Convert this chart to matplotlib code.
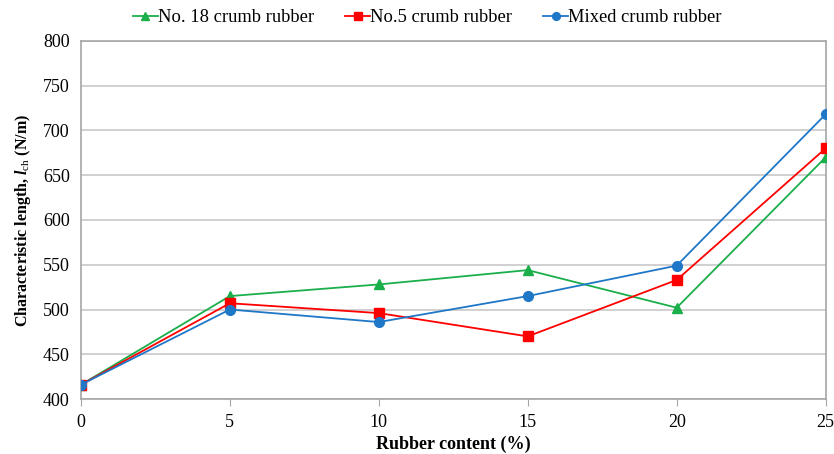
import matplotlib
matplotlib.use("Agg")
import matplotlib.pyplot as plt

plt.rcParams['font.family'] = ['Liberation Serif', 'DejaVu Serif']
plt.rcParams['mathtext.fontset'] = 'custom'
plt.rcParams['mathtext.rm'] = 'Liberation Serif'
plt.rcParams['mathtext.it'] = 'Liberation Serif:italic:bold'
plt.rcParams['mathtext.bf'] = 'Liberation Serif:bold'

rubber_content = [0, 5, 10, 15, 20, 25]
no18 = [416, 515, 528, 544, 502, 670]
no5 = [416, 507, 496, 470, 533, 680]
mixed = [416, 500, 486, 515, 549, 718]

fig = plt.figure(figsize=(8.34, 4.54), dpi=100)
ax = fig.add_axes([0.097, 0.121, 0.893, 0.789])

ax.plot(rubber_content, no18, color='#1aaf4b', marker='^', markersize=7, lw=1.3,
        label='No. 18 crumb rubber', zorder=3)
ax.plot(rubber_content, no5, color='#ff0000', marker='s', markersize=7, lw=1.3,
        label='No.5 crumb rubber', zorder=3)
ax.plot(rubber_content, mixed, color='#1f77c8', marker='o', markersize=7, lw=1.3,
        label='Mixed crumb rubber', zorder=4)

ax.set_xlim(0, 25)
ax.set_ylim(400, 800)
ax.set_xticks([0, 5, 10, 15, 20, 25])
ax.set_yticks(range(400, 801, 50))
ax.yaxis.grid(True, color='#c8c8c8', lw=1.2)
ax.set_axisbelow(True)
for s in ax.spines.values():
    s.set_color('#a6a6a6')
    s.set_linewidth(1.2)
ax.tick_params(axis='both', labelsize=13, color='#a6a6a6', length=5)
ax.tick_params(axis='x', pad=6)
ax.tick_params(axis='y', length=0, pad=8)

ax.set_xlabel('Rubber content (%)', fontsize=13, fontweight='bold', labelpad=3)
ax.set_ylabel(r'Characteristic length, $\mathit{l}_{\mathrm{ch}}$ (N/m)', fontsize=11.5,
              fontweight='bold', labelpad=7)

leg = ax.legend(loc='center', bbox_to_anchor=(0.465, 1.065), ncol=3, frameon=False,
                fontsize=13.3, handlelength=1.35, handletextpad=0.0, columnspacing=1.7,
                markerscale=0.8)

fig.savefig('out.png', dpi=100)
